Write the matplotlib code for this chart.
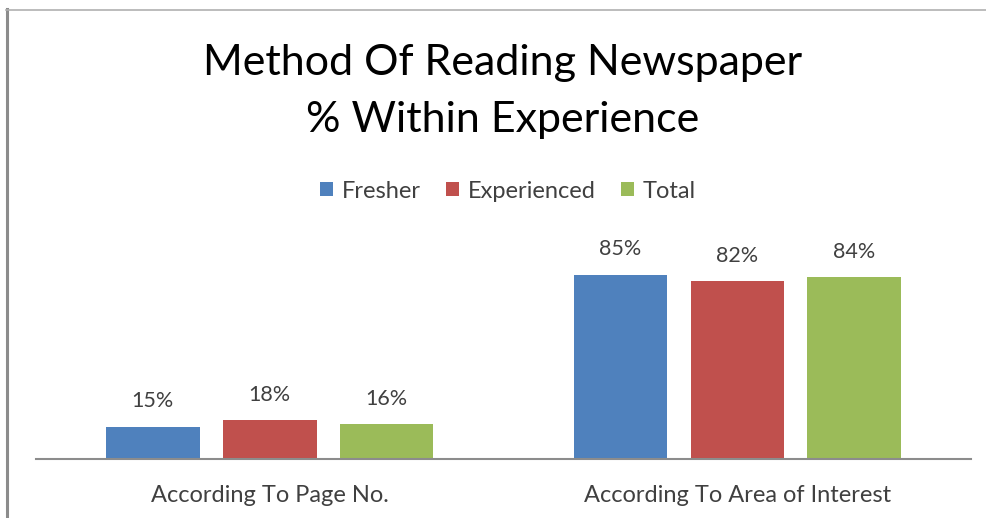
import matplotlib
matplotlib.use("Agg")
import matplotlib.pyplot as plt
from matplotlib.lines import Line2D
from matplotlib.patches import Patch
import numpy as np

categories = ["According To Page No.", "According To Area of Interest"]
series = ["Fresher", "Experienced", "Total"]
fresher = [15, 85]
experienced = [18, 82]
total = [16, 84]
colors = ["#4f81bd", "#c0504d", "#9bbb59"]

plt.rcParams["font.family"] = ["Lato", "DejaVu Sans"]

W, H = 986, 518
fig = plt.figure(figsize=(W / 100, H / 100), dpi=100)
fig.patch.set_facecolor("white")

# plot area in pixel terms
left, right, base, top = 36, 971, 459, 264
ax = fig.add_axes([left / W, (H - base) / H, (right - left) / W, (base - top) / H])

x = np.arange(len(categories))
width = 0.2
offsets = [-0.25, 0.0, 0.25]
for vals, off, col, name in zip([fresher, experienced, total], offsets, colors, series):
    bars = ax.bar(x + off, vals, width, color=col, label=name, zorder=2)
    for b, v in zip(bars, vals):
        ax.text(b.get_x() + b.get_width() / 2, v + 11.7, f"{v}%", ha="center",
                va="center", fontsize=15.5, color="#404040", clip_on=False)

ax.set_xlim(-0.5, 1.5)
ax.set_ylim(0, 90)
ax.set_yticks([])
ax.set_xticks(x)
ax.set_xticklabels(categories, fontsize=17, color="#404040")
ax.tick_params(axis="x", length=0, pad=18.5)
for s in ["top", "right", "left"]:
    ax.spines[s].set_visible(False)
ax.spines["bottom"].set_color("#8c8c8c")
ax.spines["bottom"].set_linewidth(1.5)
ax.set_facecolor("none")

# title
fig.text(503 / W, 1 - 63 / H, "Method Of Reading Newspaper", ha="center", va="center",
         fontsize=31, color="black")
fig.text(503 / W, 1 - 120 / H, "% Within Experience", ha="center", va="center",
         fontsize=31, color="black")

# legend
handles = [Patch(facecolor=c, label=n) for c, n in zip(colors, series)]
fig.legend(handles=handles, loc="center", bbox_to_anchor=(508 / W, 1 - 191 / H), ncol=3,
           frameon=False, fontsize=17, handlelength=0.55, handleheight=0.55,
           handletextpad=0.35, columnspacing=1.1, labelcolor="#404040")

# chart frame
fig.add_artist(Line2D([7 / W, 7 / W], [0, 1 - 9 / H], color="#8c8c8c", lw=2.2))
fig.add_artist(Line2D([6 / W, 1], [1 - 9.5 / H, 1 - 9.5 / H], color="#b0b0b0", lw=1.2))

fig.savefig("out.png", dpi=100, facecolor="white")
